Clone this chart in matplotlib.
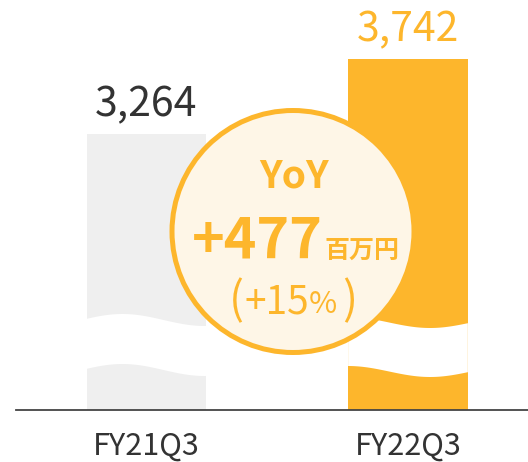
import numpy as np
import matplotlib
matplotlib.use("Agg")
import matplotlib.pyplot as plt
from matplotlib.patches import Circle, Polygon
from matplotlib.transforms import blended_transform_factory

plt.rcParams['font.family'] = ['Noto Sans CJK JP', 'DejaVu Sans']

# ---- data ----
categories = ["FY21Q3", "FY22Q3"]
values = [3264, 3742]
value_labels = ["3,264", "3,742"]
yoy_title = "YoY"
yoy_diff = "+477"
yoy_unit = "百万円"
yoy_pct_open = "("
yoy_pct = "+15"
yoy_pct_sign = "%"
yoy_pct_close = ")"

ORANGE = "#FDB62C"
GRAY = "#EFEFEF"
DARK = "#333333"
CREAM = "#FEF6E7"

W, H, DPI = 528, 462, 100
fig = plt.figure(figsize=(W / DPI, H / DPI), dpi=DPI)
base_px = 409.5
ax = fig.add_axes([16 / W, (H - base_px) / H, 512 / W, base_px / H])

x = np.arange(len(categories))
bar_w = 0.458
bars = ax.bar(x, values, width=bar_w, color=[GRAY, ORANGE], zorder=2)
ax.set_xlim(-0.499, 1.459)
ax.set_ylim(1508, 1508 + base_px / 0.1569)

for sp in ["top", "right", "left"]:
    ax.spines[sp].set_visible(False)
ax.spines["bottom"].set_color("#444444")
ax.spines["bottom"].set_linewidth(1.3)
ax.set_yticks([])
ax.set_xticks(x)
ax.set_xticklabels(categories, fontsize=22, color=DARK)
ax.tick_params(axis="x", length=0, pad=15.5)

label_colors = [DARK, ORANGE]
for xi, v, lab, c in zip(x, values, value_labels, label_colors):
    ax.annotate(lab, (xi, v), xytext=(0, 12.5), textcoords="offset points",
                ha="center", va="baseline", fontsize=29.5, color=c)

# wavy white break bands (decoration), y in inches from bottom
tr = blended_transform_factory(ax.transData, fig.dpi_scale_trans)
wave_params = [(320.0, 6.0, 0.3, 50.0), (322.5, 5.5, 0.0, 49.0)]
for xi, (c, A, t0, thick) in zip(x, wave_params):
    t = np.linspace(0, 1, 60)
    xs = xi - bar_w / 2 + t * bar_w
    top = c - A * np.cos(2 * np.pi * (t - t0) / 1.37)
    bot = top + thick
    pts = np.concatenate([np.column_stack([xs, (H - top) / DPI]),
                          np.column_stack([xs[::-1], (H - bot[::-1]) / DPI])])
    ax.add_patch(Polygon(pts, closed=True, facecolor="white", edgecolor="none",
                         transform=tr, zorder=3, clip_on=False))

# YoY circle
cx, cy, r = 293, 231.5, 121
circ = Circle((cx / DPI, (H - cy) / DPI), r / DPI, transform=fig.dpi_scale_trans,
              facecolor=CREAM, edgecolor=ORANGE, linewidth=3.6, zorder=5, clip_on=False)
ax.add_patch(circ)

def ftext(px, py, s, **kw):
    return fig.text(px / W, 1 - py / H, s, color=ORANGE, zorder=6, **kw)

ftext(294, 187, yoy_title, ha="center", va="baseline", fontsize=28, fontweight="bold")
ftext(323, 257, yoy_diff, ha="right", va="baseline", fontsize=40, fontweight="bold")
ftext(324, 258, yoy_unit, ha="left", va="baseline", fontsize=18, fontweight="bold")
# (+15%) with a smaller percent sign
ftext(229, 314, yoy_pct_open, ha="left", va="baseline", fontsize=32)
ftext(245, 313, yoy_pct, ha="left", va="baseline", fontsize=28)
ftext(309, 313, yoy_pct_sign, ha="left", va="baseline", fontsize=22)
ftext(357, 314, yoy_pct_close, ha="right", va="baseline", fontsize=32)

fig.savefig("out.png", dpi=DPI)
